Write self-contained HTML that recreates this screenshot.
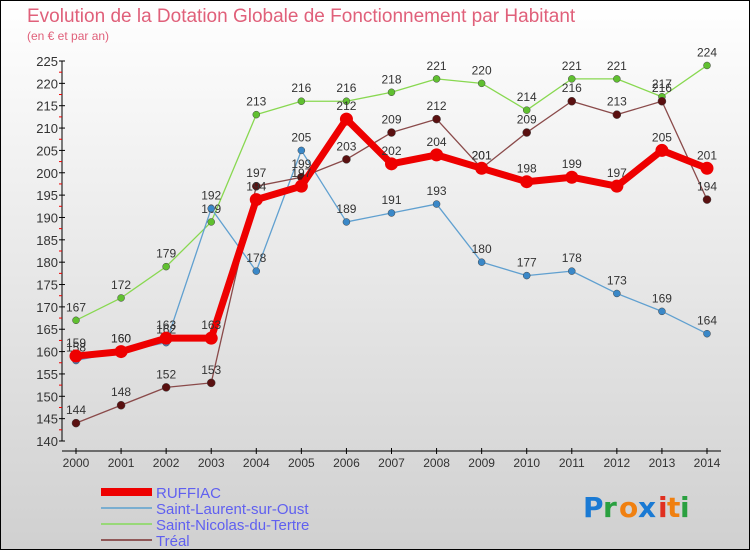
<!DOCTYPE html>
<html><head><meta charset="utf-8"><style>
body{margin:0}
#c{width:750px;height:550px;position:relative;background:linear-gradient(#ffffff,#d0d0d0);box-sizing:border-box;border:1px solid #000;font-family:"Liberation Sans",sans-serif;overflow:hidden}
</style></head><body>
<div id="c">
<svg id="s" width="750" height="550" style="position:absolute;left:0;top:0">
<text x="26" y="21" font-size="19" fill="#e0607a">Evolution de la Dotation Globale de Fonctionnement par Habitant</text>
<text x="26" y="39" font-size="12" fill="#e0607a">(en € et par an)</text>
<g id="axes"></g><g id="series"></g><g id="legend"></g>
<g font-size="28" font-weight="bold" font-family="'DejaVu Sans',sans-serif">
<text x="582" y="516" fill="#1a7ad4">P</text><text x="602" y="516" fill="#2aa040">r</text><text x="618" y="516" fill="#f08010">o</text><text x="637" y="516" fill="#1a7ad4">x</text><text x="657" y="516" fill="#e03020">i</text><text x="666" y="516" fill="#f08010">t</text><text x="679" y="516" fill="#2aa040">i</text>
</g>
</svg>
</div>
<script>
const years=[2000,2001,2002,2003,2004,2005,2006,2007,2008,2009,2010,2011,2012,2013,2014];
const ruffiac=[159,160,163,163,194,197,212,202,204,201,198,199,197,205,201];
const laurent=[158,160,162,192,178,205,189,191,193,180,177,178,173,169,164];
const nicolas=[167,172,179,189,213,216,216,218,221,220,214,221,221,217,224];
const treal=[144,148,152,153,197,199,203,209,212,201,209,216,213,216,194];
const yTicks=[140,145,150,155,160,165,170,175,180,185,190,195,200,205,210,215,220,225];
const seriesNames=["RUFFIAC","Saint-Laurent-sur-Oust","Saint-Nicolas-du-Tertre","Tréal"];
const NS="http://www.w3.org/2000/svg";
const X=i=>75+i*(706-75)/(years.length-1);
const Y=v=>440-(v-140)*(380/85);
function mk(p,t,a){const e=document.createElementNS(NS,t);for(const k in a)e.setAttribute(k,a[k]);p.appendChild(e);return e;}
const ax=document.getElementById('axes');
let l=mk(ax,'line',{x1:61,y1:60,x2:61,y2:440,stroke:'#000'});

l=mk(ax,'line',{x1:61,y1:450,x2:720,y2:450,stroke:'#000'});

yTicks.forEach(v=>{const y=Y(v);mk(ax,'line',{x1:58,y1:y,x2:64,y2:y,stroke:'#000'});
if(v<225)mk(ax,'line',{x1:58,y1:Y(v+2.5),x2:61,y2:Y(v+2.5),stroke:'#e00'});
const t=mk(ax,'text',{x:57,y:y+5,'text-anchor':'end','font-size':13,fill:'#333'});t.textContent=v;
});
years.forEach((yr,i)=>{mk(ax,'line',{x1:X(i),y1:447,x2:X(i),y2:453,stroke:'#000'});
const t=mk(ax,'text',{x:X(i),y:466,'text-anchor':'middle','font-size':12,fill:'#333'});t.textContent=yr;
});
const sg=document.getElementById('series');
const defs=[[nicolas,'#88d850','#60c030',1.3,3.5,'saint-nicolas'],[laurent,'#60a0d0','#3a88c8',1.3,3.5,'saint-laurent'],[treal,'#8a4a4a','#5a1010',1.3,4,'treal'],[ruffiac,'#ee0000','#ee0000',7,6.5,'ruffiac']];
defs.forEach(([d,lc,pc,w,r,n])=>{const g=mk(sg,'g',{});

const p=mk(g,'polyline',{points:d.map((v,i)=>X(i)+','+Y(v)).join(' '),fill:'none',stroke:lc,'stroke-width':w,'stroke-linejoin':'round'});

d.forEach((v,i)=>{const c=mk(g,'circle',{cx:X(i),cy:Y(v),r:r,fill:pc,stroke:n=='ruffiac'?'none':'#444','stroke-width':0.5});

const t=mk(g,'text',{x:X(i),y:Y(v)-9,'text-anchor':'middle','font-size':12,fill:'#333'});t.textContent=v;
});});
const lg=document.getElementById('legend');
const lcols=['#ee0000','#7aaed0','#98d878','#905858'],lw=[8,2,2,2];
seriesNames.forEach((nm,i)=>{const y=491+i*16;
const ln=mk(lg,'line',{x1:100,y1:y,x2:151,y2:y,stroke:lcols[i],'stroke-width':lw[i]});

const t=mk(lg,'text',{x:155,y:y+6,'font-size':15,fill:'#6060f0'});t.textContent=nm;
});
</script>
</body></html>
